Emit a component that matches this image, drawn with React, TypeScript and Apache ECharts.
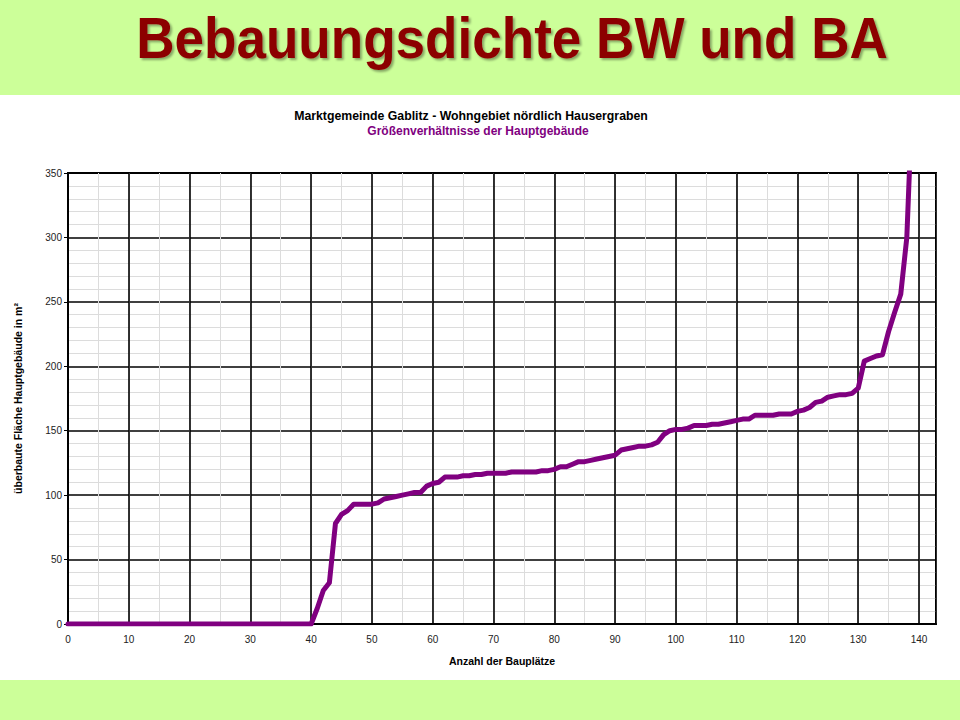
import React, { useEffect, useRef } from "react";
import * as echarts from "echarts";

const pageTitle = "Bebauungsdichte BW und BA";
const chartTitle = "Marktgemeinde Gablitz - Wohngebiet nördlich Hausergraben";
const chartSubtitle = "Größenverhältnisse der Hauptgebäude";
const xAxisName = "Anzahl der Bauplätze";
const yAxisName = "überbaute Fläche Hauptgebäude in m²";

// Fläche per Bauplatz (index 0..139), sorted ascending
const areaValues = [
  0, 0, 0, 0, 0, 0, 0, 0, 0, 0,
  0, 0, 0, 0, 0, 0, 0, 0, 0, 0,
  0, 0, 0, 0, 0, 0, 0, 0, 0, 0,
  0, 0, 0, 0, 0, 0, 0, 0, 0, 0,
  0, 12, 26, 32, 78, 85, 88, 93, 93, 93,
  93, 94, 97, 98, 99, 100, 101, 102, 102, 107,
  109, 110, 114, 114, 114, 115, 115, 116, 116, 117,
  117, 117, 117, 118, 118, 118, 118, 118, 119, 119,
  120, 122, 122, 124, 126, 126, 127, 128, 129, 130,
  131, 135, 136, 137, 138, 138, 139, 141, 147, 150,
  151, 151, 152, 154, 154, 154, 155, 155, 156, 157,
  158, 159, 159, 162, 162, 162, 162, 163, 163, 163,
  165, 166, 168, 172, 173, 176, 177, 178, 178, 179,
  183, 204, 206, 208, 209, 227, 242, 256, 300, 420,
];

const xMax = 142.8;
const yMax = 350;
const FONT = "'Liberation Sans', Arial, sans-serif";

export default function App() {
  const ref = useRef<HTMLDivElement>(null);
  useEffect(() => {
    if (!ref.current) return;
    const chart = echarts.init(ref.current, null, { renderer: "svg" });
    const seriesData = areaValues.map((v, i) => [i, v]);
    chart.setOption({
      animation: false,
      backgroundColor: "#ffffff",
      textStyle: { fontFamily: FONT },
      graphic: [
        { type: "rect", z: -10, shape: { x: 0, y: 0, width: 960, height: 95 }, style: { fill: "#CCFF99" } },
        { type: "rect", z: -10, shape: { x: 0, y: 680, width: 960, height: 40 }, style: { fill: "#CCFF99" } },
        {
          type: "text",
          x: 512,
          y: 38,
          scaleX: 0.915,
          style: {
            text: pageTitle,
            fontFamily: FONT,
            fontWeight: "bold",
            fontSize: 58,
            fill: "#8C0000",
            textAlign: "center",
            textVerticalAlign: "middle",
            textShadowColor: "rgba(0,0,0,0.35)",
            textShadowOffsetX: 2,
            textShadowOffsetY: 2,
            textShadowBlur: 2,
          },
        },
        {
          type: "text",
          x: 471,
          y: 116,
          style: {
            text: chartTitle,
            fontFamily: FONT,
            fontWeight: "bold",
            fontSize: 12.3,
            fill: "#000000",
            textAlign: "center",
            textVerticalAlign: "middle",
          },
        },
        {
          type: "text",
          x: 478,
          y: 131,
          style: {
            text: chartSubtitle,
            fontFamily: FONT,
            fontWeight: "bold",
            fontSize: 12,
            fill: "#800080",
            textAlign: "center",
            textVerticalAlign: "middle",
          },
        },
      ],
      grid: {
        left: 68,
        top: 173,
        right: 24,
        bottom: 96,
        show: true,
        borderColor: "#000000",
        borderWidth: 2,
        backgroundColor: "transparent",
      },
      xAxis: [
        {
          type: "value",
          position: "bottom",
          min: 0,
          max: xMax,
          interval: 5,
          axisLine: { show: false },
          axisTick: { show: false },
          axisLabel: { show: false },
          splitLine: { show: true, lineStyle: { color: "#dcdcdc", width: 1 } },
        },
        {
          type: "value",
          position: "bottom",
          offset: 0,
          min: 0,
          max: xMax,
          interval: 10,
          name: xAxisName,
          nameLocation: "middle",
          nameGap: 31,
          nameTextStyle: { fontFamily: FONT, fontWeight: "bold", fontSize: 10.5, color: "#000" },
          axisLine: { show: true, lineStyle: { color: "#000", width: 2 } },
          axisTick: { show: false },
          axisLabel: {
            fontFamily: FONT,
            fontSize: 10,
            color: "#222",
            margin: 10,
            formatter: (v: number) => (Math.abs(v % 10) < 1e-6 ? String(v) : ""),
          },
          splitLine: { show: true, lineStyle: { color: "#000", width: 1.6 } },
        },
      ],
      yAxis: {
        type: "value",
        min: 0,
        max: yMax,
        interval: 50,
        name: yAxisName,
        nameLocation: "middle",
        nameGap: 45,
        nameRotate: 90,
        nameTextStyle: { fontFamily: FONT, fontWeight: "bold", fontSize: 10.5, color: "#000" },
        axisLine: { show: true, lineStyle: { color: "#000", width: 2 } },
        axisTick: { show: true, length: 4, lineStyle: { color: "#000", width: 1 } },
        axisLabel: { fontFamily: FONT, fontSize: 10, color: "#222", margin: 6 },
        splitLine: { show: true, lineStyle: { color: "#000", width: 1.6 } },
        minorTick: { show: false, splitNumber: 5 },
        minorSplitLine: { show: true, lineStyle: { color: "#dcdcdc", width: 1 } },
      },
      series: [
        {
          type: "line",
          xAxisIndex: 1,
          data: seriesData,
          showSymbol: false,
          symbol: "none",
          clip: true,
          lineStyle: { color: "#800080", width: 5, join: "round", cap: "round" },
          z: 5,
        },
      ],
    });
    return () => chart.dispose();
  }, []);
  return (
    <div
      ref={ref}
      style={{ position: "fixed", left: 0, top: 0, width: 960, height: 720 }}
    />
  );
}
